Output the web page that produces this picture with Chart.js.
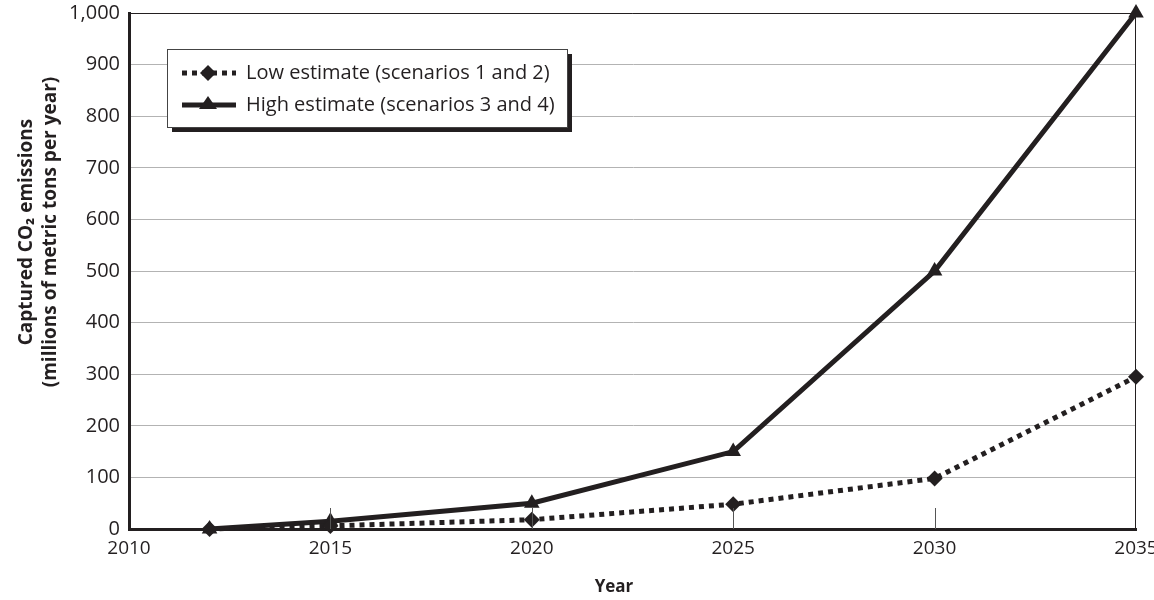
<!DOCTYPE html>
<html>
<head>
<meta charset="utf-8">
<script src="https://cdn.jsdelivr.net/npm/chart.js@4.4.0/dist/chart.umd.min.js"></script>
<style>
    body { margin: 0; background: #fff; }
    #wrap { width: 1154px; height: 600px; }
</style>
</head>
<body>
<div id="wrap"><canvas id="co2Chart" width="1154" height="600"></canvas></div>
<script>
const years = [2012, 2015, 2020, 2025, 2030, 2035];
const lowEstimate = [0, 6, 18, 48, 98, 295];
const highEstimate = [0, 15, 50, 150, 500, 1000];
const xTicks = [2010, 2015, 2020, 2025, 2030, 2035];
const yTicks = [0, 100, 200, 300, 400, 500, 600, 700, 800, 900, 1000];
const seriesLabels = ["Low estimate (scenarios 1 and 2)", "High estimate (scenarios 3 and 4)"];
const yTitle = ["Captured CO₂ emissions", "(millions of metric tons per year)"];
const xTitle = "Year";

const FONT = "'Open Sans', 'DejaVu Sans', sans-serif";
const INK = "#231f20";

// frame, little inner ticks, axis titles and the legend box
const extras = {
    id: "extras",
    afterDatasetsDraw(chart) {
        const ctx = chart.ctx;
        const a = chart.chartArea;
        const x = chart.scales.x;
        ctx.save();
        ctx.strokeStyle = INK;
        ctx.lineWidth = 1;
        ctx.beginPath();
        ctx.moveTo(a.left, a.top + 0.5);
        ctx.lineTo(a.right - 0.5, a.top + 0.5);
        ctx.lineTo(a.right - 0.5, a.bottom);
        ctx.stroke();

        ctx.strokeStyle = "#555";
        xTicks.slice(1, -1).forEach(t => {
            const px = Math.round(x.getPixelForValue(t)) + 0.5;
            ctx.beginPath();
            ctx.moveTo(px, a.bottom);
            ctx.lineTo(px, a.bottom - 21);
            ctx.stroke();
        });

        // axis titles
        ctx.fillStyle = INK;
        ctx.textAlign = "center";
        ctx.textBaseline = "middle";
        ctx.font = "bold 17px " + FONT;
        ctx.fillText(xTitle, 614, 587);
        ctx.save();
        ctx.translate(0, 232);
        ctx.rotate(-Math.PI / 2);
        ctx.font = "bold 19px " + FONT;
        ctx.fillText(yTitle[0], 0, 27);
        ctx.fillText(yTitle[1], 0, 51);
        ctx.restore();

        // legend
        const lx = 167, ly = 49, lw = 400, lh = 78;
        ctx.fillStyle = INK;
        ctx.fillRect(lx + 5, ly + 5, lw, lh);
        ctx.fillStyle = "#fff";
        ctx.fillRect(lx, ly, lw, lh);
        ctx.strokeStyle = "#444";
        ctx.lineWidth = 1;
        ctx.strokeRect(lx + 0.5, ly + 0.5, lw, lh);

        const rows = [ly + 24, ly + 56];
        rows.forEach((ry, i) => {
            const ds = chart.data.datasets[i];
            ctx.strokeStyle = INK;
            ctx.lineWidth = 5;
            ctx.setLineDash(ds.borderDash || []);
            ctx.beginPath();
            ctx.moveTo(182, ry);
            ctx.lineTo(236, ry);
            ctx.stroke();
            ctx.setLineDash([]);
            ctx.fillStyle = INK;
            ctx.beginPath();
            if (i === 0) {
                ctx.moveTo(208, ry - 8);
                ctx.lineTo(216, ry);
                ctx.lineTo(208, ry + 8);
                ctx.lineTo(200, ry);
            } else {
                ctx.moveTo(208, ry - 9);
                ctx.lineTo(217, ry + 4);
                ctx.lineTo(199, ry + 4);
            }
            ctx.closePath();
            ctx.fill();
            ctx.font = "20px " + FONT;
            ctx.textAlign = "left";
            ctx.fillText(seriesLabels[i], 246, ry);
        });
        ctx.restore();
    }
};

new Chart(document.getElementById("co2Chart"), {
    type: "line",
    data: {
        datasets: [{
            label: seriesLabels[0],
            data: years.map((y, i) => ({ x: y, y: lowEstimate[i] })),
            borderColor: INK,
            backgroundColor: INK,
            borderWidth: 5,
            borderDash: [5, 5],
            pointStyle: "rectRot",
            pointRadius: 8,
            pointBorderWidth: 0
        }, {
            label: seriesLabels[1],
            data: years.map((y, i) => ({ x: y, y: highEstimate[i] })),
            borderColor: INK,
            backgroundColor: INK,
            borderWidth: 5,
            pointStyle: "triangle",
            pointRadius: 9,
            pointBorderWidth: 0
        }]
    },
    options: {
        responsive: false,
        animation: false,
        clip: false,
        layout: { padding: 0 },
        plugins: { legend: { display: false }, tooltip: { enabled: false } },
        scales: {
            x: {
                type: "linear",
                min: 2010,
                max: 2035,
                afterBuildTicks: s => { s.ticks = xTicks.map(v => ({ value: v })); },
                grid: { display: false, drawTicks: false },
                border: { color: INK, width: 3 },
                ticks: {
                    color: INK,
                    font: { family: FONT, size: 19 },
                    padding: 8,
                    maxRotation: 0,
                    callback: v => String(v)
                },
                afterFit: s => {
                    s.height = 71;
                    s.paddingLeft = 0;
                    s.paddingRight = 18;
                }
            },
            y: {
                min: 0,
                max: 1000,
                afterBuildTicks: s => { s.ticks = yTicks.map(v => ({ value: v })); },
                grid: { color: "#b3b3b3", lineWidth: 1, drawTicks: false },
                border: { color: INK, width: 3 },
                ticks: {
                    color: INK,
                    font: { family: FONT, size: 20 },
                    padding: 9,
                    callback: v => v.toLocaleString("en-US")
                },
                afterFit: s => {
                    s.width = 129;
                    s.paddingTop = 13;
                    s.paddingBottom = 0;
                }
            }
        }
    },
    plugins: [extras]
});
</script>
</body>
</html>
